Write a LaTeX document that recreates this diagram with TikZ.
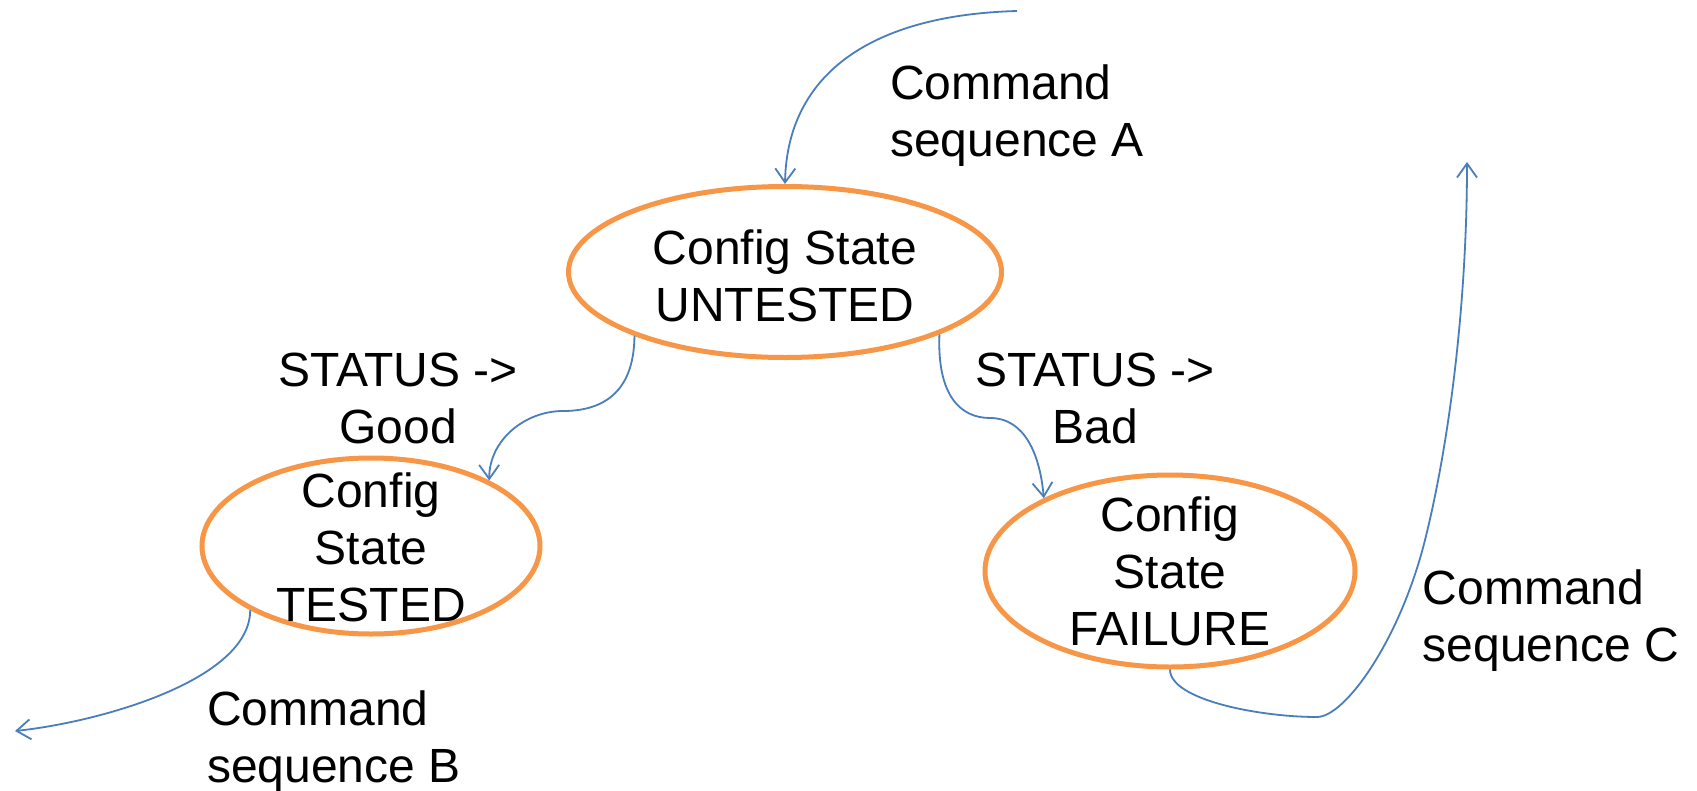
\documentclass[tikz,border=0pt]{standalone}
\usepackage{fontspec}
\setmainfont{Liberation Sans}
\usetikzlibrary{shapes.geometric, arrows.meta}
\definecolor{stateorange}{HTML}{F79646}
\definecolor{arrowblue}{HTML}{4A7EBB}
\begin{document}
\begin{tikzpicture}[x=1pt, y=-1pt,
  txt/.style={inner sep=0pt, font=\fontsize{48}{57}\selectfont},
  state/.style={ellipse, draw=stateorange, line width=5pt, inner sep=0pt},
  conn/.style={draw=arrowblue, line width=1.8pt, -{Straight Barb[length=14pt,width=20pt]}}]
\useasboundingbox (0,0) rectangle (1697,790);
\fill[white] (0,0) rectangle (1697,790);

% states
\node[state, minimum width=433pt, minimum height=171pt] (untested) at (785,272) {};
\node[state, minimum width=338pt, minimum height=176pt] (tested) at (371,546) {};
\node[state, minimum width=370pt, minimum height=192pt] (failure) at (1170,571) {};

\node[txt, align=center] (untestedtxt) at (785,276) {Config State\\UNTESTED};
\node[txt, align=center] (testedtxt) at (371,547) {Config\\State\\TESTED};
\node[txt, align=center] (failuretxt) at (1170,571) {Config\\State\\FAILURE};

% labels
\node[txt, align=left] (lblA) at (1017,116) {Command\\sequence A};
\node[txt, align=center] (lblGood) at (398,398) {STATUS -\kern0pt>\\Good};
\node[txt, align=center] (lblBad) at (1095,398) {STATUS -\kern0pt>\\Bad};
\node[txt, align=left] (lblB) at (334,742) {Command\\sequence B};
\node[txt, align=left] (lblC) at (1551,621) {Command\\sequence C};

% free ends
\coordinate (srcA) at (1017,11);
\coordinate (endB) at (15,731);
\coordinate (endC) at (1467,162);

% connectors
\draw[conn] (srcA) .. controls (870,15) and (787,75) .. (untested.north);
\draw[conn] (untested.203) .. controls (634,395) and (600,411) .. (563,411)
   .. controls (525,411) and (489,440) .. (tested.29);
\draw[conn] (untested.338) .. controls (937,395) and (960,418) .. (990,418)
   .. controls (1025,418) and (1040,455) .. (failure.150);
\draw[conn] (tested.208) .. controls (250,680) and (100,722) .. (endB);
\draw[conn] (failure.south) .. controls (1170,700) and (1260,717) .. (1317,717)
   .. controls (1345,717) and (1400,640) .. (1425,540)
   .. controls (1450,440) and (1467,300) .. (endC);
\end{tikzpicture}
\end{document}
